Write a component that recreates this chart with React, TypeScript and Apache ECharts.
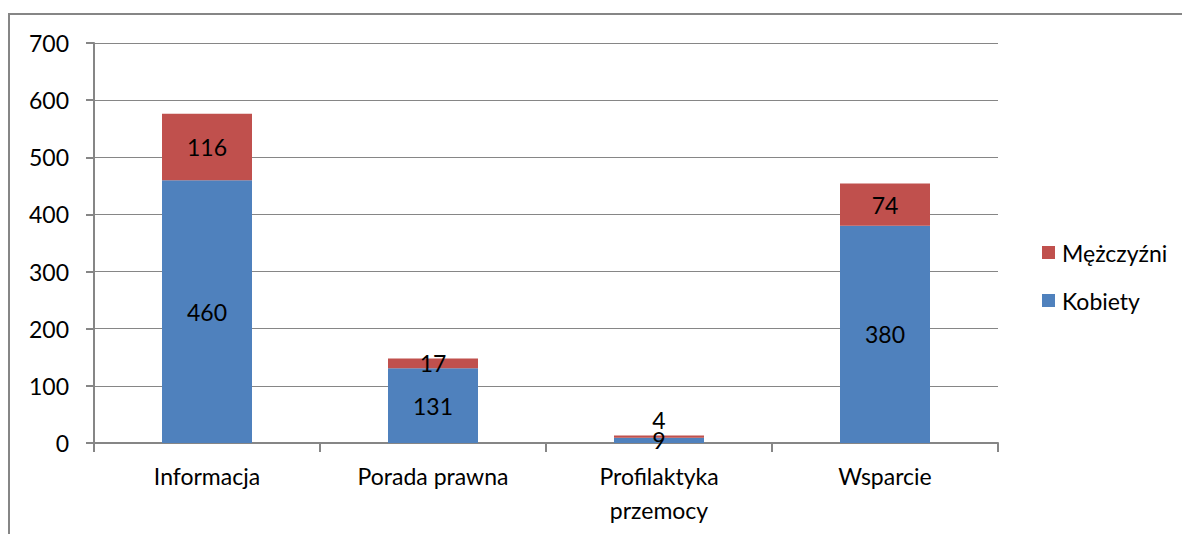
import React, { useEffect, useRef } from "react";
import * as echarts from "echarts";

const categories = ["Informacja", "Porada prawna", "Profilaktyka\nprzemocy", "Wsparcie"];
const kobiety = [460, 131, 9, 380];
const mezczyzni = [116, 17, 4, 74];
const yTicks = { min: 0, max: 700, interval: 100 };

const FONT = "Lato, 'Liberation Sans', sans-serif";
const GRAY = "#868686";
const FS = 23;

export default function App() {
  const ref = useRef<HTMLDivElement>(null);
  useEffect(() => {
    document.body.style.margin = "0";
    const chart = echarts.init(ref.current!, null, { renderer: "svg" });
    chart.setOption({
      animation: false,
      backgroundColor: "#ffffff",
      textStyle: { fontFamily: FONT },
      graphic: [
        {
          type: "rect",
          shape: { x: 9, y: 14, width: 1200, height: 600 },
          style: { fill: "none", stroke: GRAY, lineWidth: 2 },
          silent: true,
        },
      ],
      grid: { left: 94, top: 43, right: 184, bottom: 91, containLabel: false },
      legend: {
        orient: "vertical",
        left: 1037,
        top: 236,
        itemWidth: 13,
        itemHeight: 13,
        itemGap: 25,
        data: ["Mężczyźni", "Kobiety"],
        textStyle: { fontSize: FS, color: "#000", fontFamily: FONT, padding: [0, 0, 0, 2] },
        icon: "rect",
      },
      xAxis: {
        type: "category",
        data: categories,
        boundaryGap: true,
        axisLine: { show: true, lineStyle: { color: GRAY, width: 2 } },
        axisTick: { show: true, length: 9, alignWithLabel: false, lineStyle: { color: GRAY, width: 2 } },
        axisLabel: { color: "#000", fontSize: FS, margin: 16, lineHeight: 34, fontFamily: FONT },
      },
      yAxis: {
        type: "value",
        min: yTicks.min,
        max: yTicks.max,
        interval: yTicks.interval,
        axisLine: { show: true, lineStyle: { color: GRAY, width: 2 } },
        axisTick: { show: true, length: 8, lineStyle: { color: GRAY, width: 2 } },
        splitLine: { show: true, lineStyle: { color: GRAY, width: 1 } },
        axisLabel: { color: "#000", fontSize: FS, margin: 25, fontFamily: FONT },
      },
      series: [
        {
          name: "Kobiety",
          type: "bar",
          stack: "total",
          barWidth: 90,
          itemStyle: { color: "#4F81BD" },
          label: { show: true, position: "inside", color: "#000", fontSize: FS, fontFamily: FONT },
          data: kobiety,
        },
        {
          name: "Mężczyźni",
          type: "bar",
          stack: "total",
          barWidth: 90,
          itemStyle: { color: "#C0504D" },
          label: { show: true, position: "inside", color: "#000", fontSize: FS, fontFamily: FONT },
          data: mezczyzni.map((v, i) =>
            i === 2 ? { value: v, label: { position: "top", distance: 4 } } : v
          ),
        },
      ],
    });
    return () => chart.dispose();
  }, []);
  return <div ref={ref} style={{ width: 1182, height: 534 }} />;
}
